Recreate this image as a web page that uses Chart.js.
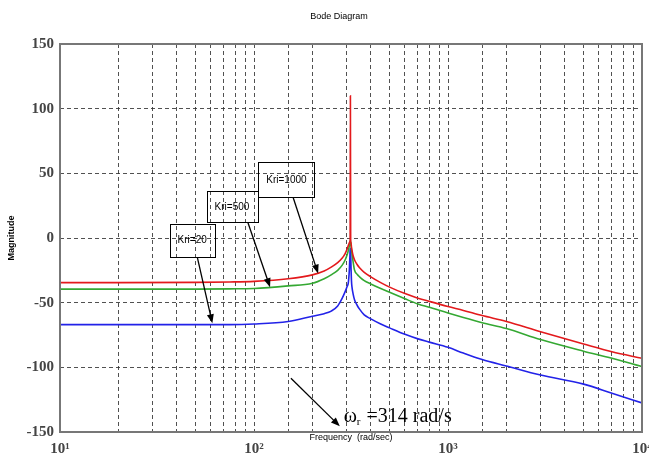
<!DOCTYPE html>
<html>
<head>
<meta charset="utf-8">
<script src="https://cdn.jsdelivr.net/npm/chart.js@4.4.1/dist/chart.umd.min.js"></script>
<style>
  html, body { margin: 0; padding: 0; background: #fff; }
  #wrap { width: 649px; height: 453px; }
</style>
</head>
<body>
<div id="wrap"><canvas id="bode"></canvas></div>
<script>
// Frequency points (rad/s), shared by the three curves
const freq = [10, 20, 50, 75, 100, 150, 200, 230, 250, 270, 285, 295, 302, 306, 308, 310, 312, 313,
  314, 315, 316, 318, 320, 324, 330, 340, 350, 370, 400, 450, 500, 600, 700, 800, 1000, 1200,
  1500, 2000, 3000, 5000, 7000, 10000];

// Magnitude (dB)
const magKri1000 = [-34.5, -34.5, -34.3, -34, -33.5, -31.5, -28.5, -25.5, -22.5, -19, -15.5, -12,
  -8.5, -6, -4.8, -3.8, -3, -2, 110, -2, -3, -7, -9.5, -13.5, -17, -20.5, -23, -26.5, -30, -34.5,
  -38, -43, -46.5, -49, -53, -56, -60, -64.5, -72.5, -82, -88, -93];
const magKri500 = [-39.5, -39.5, -39.5, -39.3, -39, -37, -35, -31.5, -28.5, -25, -21, -17, -13,
  -10, -8, -6.5, -4.5, -3, -2, -3, -5, -9, -12, -18, -25, -28, -30, -33, -35.5, -39, -42, -47,
  -51, -53.5, -58, -61.5, -65.5, -70, -78.5, -87.5, -93, -99.5];
const magKri20 = [-67, -67, -67, -67, -66.5, -64.5, -60.5, -58.5, -56.5, -52.5, -46.5, -41.5,
  -37.5, -35, -31, -25, -15, -9, -8, -10, -20, -33, -38, -43, -48, -52, -55, -59.5, -62.5, -66.5,
  -69.5, -74.5, -78, -80.5, -84.5, -89, -94, -99, -106, -113, -120, -127.5];

const yTicks = [-150, -100, -50, 0, 50, 100, 150];
const supDigits = ['⁰', '¹', '²', '³', '⁴', '⁵'];

// Callouts (box centre in freq/dB, arrow start freq on box bottom, arrow tip on the curve)
const noteText = ['Kri=1000', 'Kri=500', 'Kri=20'];
const noteAt = [[147, 45], [77, 24], [48, -2]];
const noteTail = [159, 93, 51];
const noteHead = [[214, -27.5], [121, -38], [61, -66]];
const boxH = [35, 31, 33];

function toPoints(ys) {
  return freq.map((f, i) => ({ x: f, y: ys[i] }));
}

function arrow(ctx, x0, y0, x1, y1) {
  const ang = Math.atan2(y1 - y0, x1 - x0);
  const len = 9, half = 3.5;
  ctx.beginPath();
  ctx.moveTo(x0, y0);
  ctx.lineTo(x1 - Math.cos(ang) * len * 0.7, y1 - Math.sin(ang) * len * 0.7);
  ctx.stroke();
  ctx.beginPath();
  ctx.moveTo(x1, y1);
  ctx.lineTo(x1 - len * Math.cos(ang) + half * Math.sin(ang), y1 - len * Math.sin(ang) - half * Math.cos(ang));
  ctx.lineTo(x1 - len * Math.cos(ang) - half * Math.sin(ang), y1 - len * Math.sin(ang) + half * Math.cos(ang));
  ctx.closePath();
  ctx.fill();
}

// Frame, title and the text callouts
const bodeExtras = {
  id: 'bodeExtras',
  afterDatasetsDraw(chart) {
    const { ctx, chartArea: a, scales: { x, y } } = chart;
    ctx.save();
    ctx.strokeStyle = '#777';
    ctx.lineWidth = 2;
    ctx.strokeRect(a.left, a.top, a.right - a.left, a.bottom - a.top);

    ctx.fillStyle = '#000';
    ctx.font = '9px "Liberation Sans", Arial, sans-serif';
    ctx.textAlign = 'center';
    ctx.textBaseline = 'middle';
    ctx.fillText('Bode Diagram', 339, 17);

    ctx.strokeStyle = '#000';
    ctx.lineWidth = 1;
    ctx.font = '10px "Liberation Sans", Arial, sans-serif';
    noteText.forEach((t, i) => {
      const cx = x.getPixelForValue(noteAt[i][0]);
      const cy = y.getPixelForValue(noteAt[i][1]);
      const w = ctx.measureText(t).width + 16;
      const h = boxH[i];
      ctx.strokeRect(Math.round(cx - w / 2) + 0.5, Math.round(cy - h / 2) + 0.5, Math.round(w), h);
      ctx.fillText(t, cx, cy);
      ctx.lineWidth = 1.3;
      arrow(ctx, x.getPixelForValue(noteTail[i]), cy + h / 2,
        x.getPixelForValue(noteHead[i][0]), y.getPixelForValue(noteHead[i][1]));
      ctx.lineWidth = 1;
    });

    // resonance callout
    ctx.lineWidth = 1.3;
    arrow(ctx, x.getPixelForValue(155), y.getPixelForValue(-108.5),
      x.getPixelForValue(277), y.getPixelForValue(-145.6));
    let tx = x.getPixelForValue(290);
    const ty = y.getPixelForValue(-142.5);
    ctx.textAlign = 'left';
    ctx.textBaseline = 'alphabetic';
    ctx.font = '20px "Liberation Serif", "Times New Roman", serif';
    ctx.fillText('ω', tx, ty);
    tx += ctx.measureText('ω').width;
    ctx.font = '11px "Liberation Serif", "Times New Roman", serif';
    ctx.fillText('r', tx, ty + 3);
    tx += ctx.measureText('r').width + 1;
    ctx.font = '20px "Liberation Serif", "Times New Roman", serif';
    ctx.fillText(' =314 rad/s', tx, ty);
    ctx.restore();
  }
};

const gridStyle = { color: 'rgba(50,50,50,0.85)', lineWidth: 1, drawTicks: false };
const tickFont = { family: '"Liberation Serif", "Times New Roman", serif', size: 15, weight: 'bold' };

new Chart(document.getElementById('bode'), {
  type: 'line',
  data: {
    datasets: [
      { label: 'Kri=1000', data: toPoints(magKri1000), borderColor: '#e3191c', borderWidth: 1.6 },
      { label: 'Kri=500', data: toPoints(magKri500), borderColor: '#34a832', borderWidth: 1.6 },
      { label: 'Kri=20', data: toPoints(magKri20), borderColor: '#2222e8', borderWidth: 1.6 }
    ]
  },
  options: {
    responsive: true,
    maintainAspectRatio: false,
    animation: false,
    layout: { padding: { top: 44, right: 7, bottom: 0, left: 0 } },
    elements: { point: { radius: 0 }, line: { cubicInterpolationMode: 'monotone' } },
    plugins: { legend: { display: false }, tooltip: { enabled: false } },
    scales: {
      x: {
        type: 'logarithmic',
        min: 10,
        max: 10000,
        grid: gridStyle,
        border: { display: false, dash: [4, 3] },
        ticks: {
          autoSkip: false,
          maxRotation: 0,
          padding: 8,
          color: '#444',
          font: tickFont,
          callback: (v) => {
            const p = Math.log10(v);
            return Math.abs(p - Math.round(p)) < 1e-6 ? '10' + supDigits[Math.round(p)] : '';
          }
        },
        title: {
          display: true,
          text: 'Frequency  (rad/sec)',
          color: '#000',
          font: { family: '"Liberation Sans", Arial, sans-serif', size: 9 },
          padding: { top: 0, bottom: 10 }
        },
        afterFit: (s) => { s.height = 21; s.paddingLeft = 0; s.paddingRight = 0; }
      },
      y: {
        min: -150,
        max: 150,
        grid: gridStyle,
        border: { display: false, dash: [4, 3] },
        afterBuildTicks: (s) => { s.ticks = yTicks.map(v => ({ value: v })); },
        ticks: { padding: 6, color: '#444', font: tickFont },
        title: {
          display: true,
          text: 'Magnitude',
          color: '#000',
          font: { family: '"Liberation Sans", Arial, sans-serif', size: 9, weight: 'bold' },
          padding: { top: 6.5, bottom: 0 }
        },
        afterFit: (s) => { s.width = 60; s.paddingTop = 0; s.paddingBottom = 0; }
      }
    }
  },
  plugins: [bodeExtras]
});
</script>
</body>
</html>
